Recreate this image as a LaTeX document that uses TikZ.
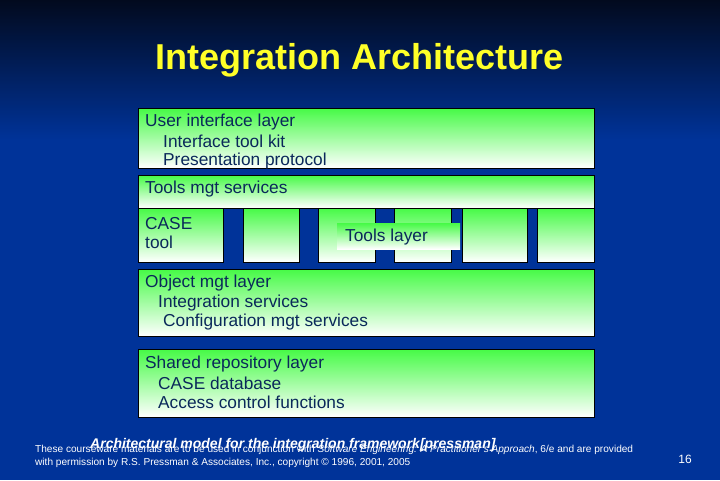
\documentclass[tikz,border=0pt]{standalone}
\usepackage{fontspec}
\setmainfont{Liberation Sans}
\definecolor{bgblue}{RGB}{0,51,153}
\definecolor{bgtop}{RGB}{2,10,30}
\definecolor{layergreen}{RGB}{70,250,70}
\definecolor{textnavy}{RGB}{10,40,90}
\definecolor{titleyellow}{RGB}{255,255,40}
\tikzset{
  layer/.style={draw=black, line width=0.8pt, top color=layergreen, bottom color=white},
  plate/.style={top color=layergreen, bottom color=white},
  txt/.style={anchor=west, inner sep=0pt, yshift=-1.5pt, text=textnavy, font=\fontsize{17.3}{20}\selectfont},
  foot/.style={anchor=west, inner sep=0pt, text=white, font=\fontsize{10.1}{12}\selectfont}
}
\begin{document}
\begin{tikzpicture}[x=1pt,y=-1pt]
\useasboundingbox (0,0) rectangle (720,480);
% background
\fill[bgblue] (0,0) rectangle (720,480);
\shade[top color=bgtop, bottom color=bgblue] (0,0) rectangle (720,140);

\node[text=titleyellow, font=\fontsize{36}{42}\bfseries\selectfont] (title) at (360,60) {Integration Architecture};

% user interface layer
\filldraw[layer] (138,108) rectangle (594,168);
\node[txt] (ui) at (145,121) {User interface layer};
\node[txt] (uikit) at (163,140) {Interface tool kit};
\node[txt] (uiproto) at (163,160) {Presentation protocol};

% tools mgt services
\filldraw[layer] (138,175) rectangle (594,208);
\node[txt] (toolsmgt) at (145,188) {Tools mgt services};

% tools layer
\filldraw[layer] (138,208) rectangle (223,262);
\filldraw[layer] (243,208) rectangle (299,262);
\filldraw[layer] (318,208) rectangle (375,262);
\filldraw[layer] (394,208) rectangle (451,262);
\filldraw[layer] (462,208) rectangle (527,262);
\filldraw[layer] (537,208) rectangle (594,262);
\node[txt] (case) at (145,222) {CASE};
\node[txt] (casetool) at (145,241) {tool};
\fill[plate] (337,223) rectangle (460,249);
\node[txt] (toolslayer) at (345,236) {Tools layer};

% object mgt layer
\filldraw[layer] (138,269) rectangle (594,336);
\node[txt] (obj) at (145,282) {Object mgt layer};
\node[txt] (objint) at (158,302) {Integration services};
\node[txt] (objconf) at (163,321) {Configuration mgt services};

% shared repository layer
\filldraw[layer] (138,349) rectangle (594,417);
\node[txt] (repo) at (145,363) {Shared repository layer};
\node[txt] (repodb) at (158,382) {CASE database};
\node[txt] (repoacc) at (158,401) {Access control functions};

% footer
\node[foot] (foot1) at (35,450) {These courseware materials are to be used in conjunction with \textit{Software Engineering: A Practitioner's Approach}, 6/e and are provided};
\node[foot] (foot2) at (35,463) {with permission by R.S. Pressman \& Associates, Inc., copyright \textcopyright{} 1996, 2001, 2005};
\node[anchor=west, inner sep=0pt, text=white, font=\fontsize{14}{17}\bfseries\itshape\selectfont] (caption) at (90,445) {Architectural model for the integration framework[pressman]};
\node[text=white, font=\fontsize{12}{14}\selectfont] (page) at (685,459) {16};
\end{tikzpicture}
\end{document}
